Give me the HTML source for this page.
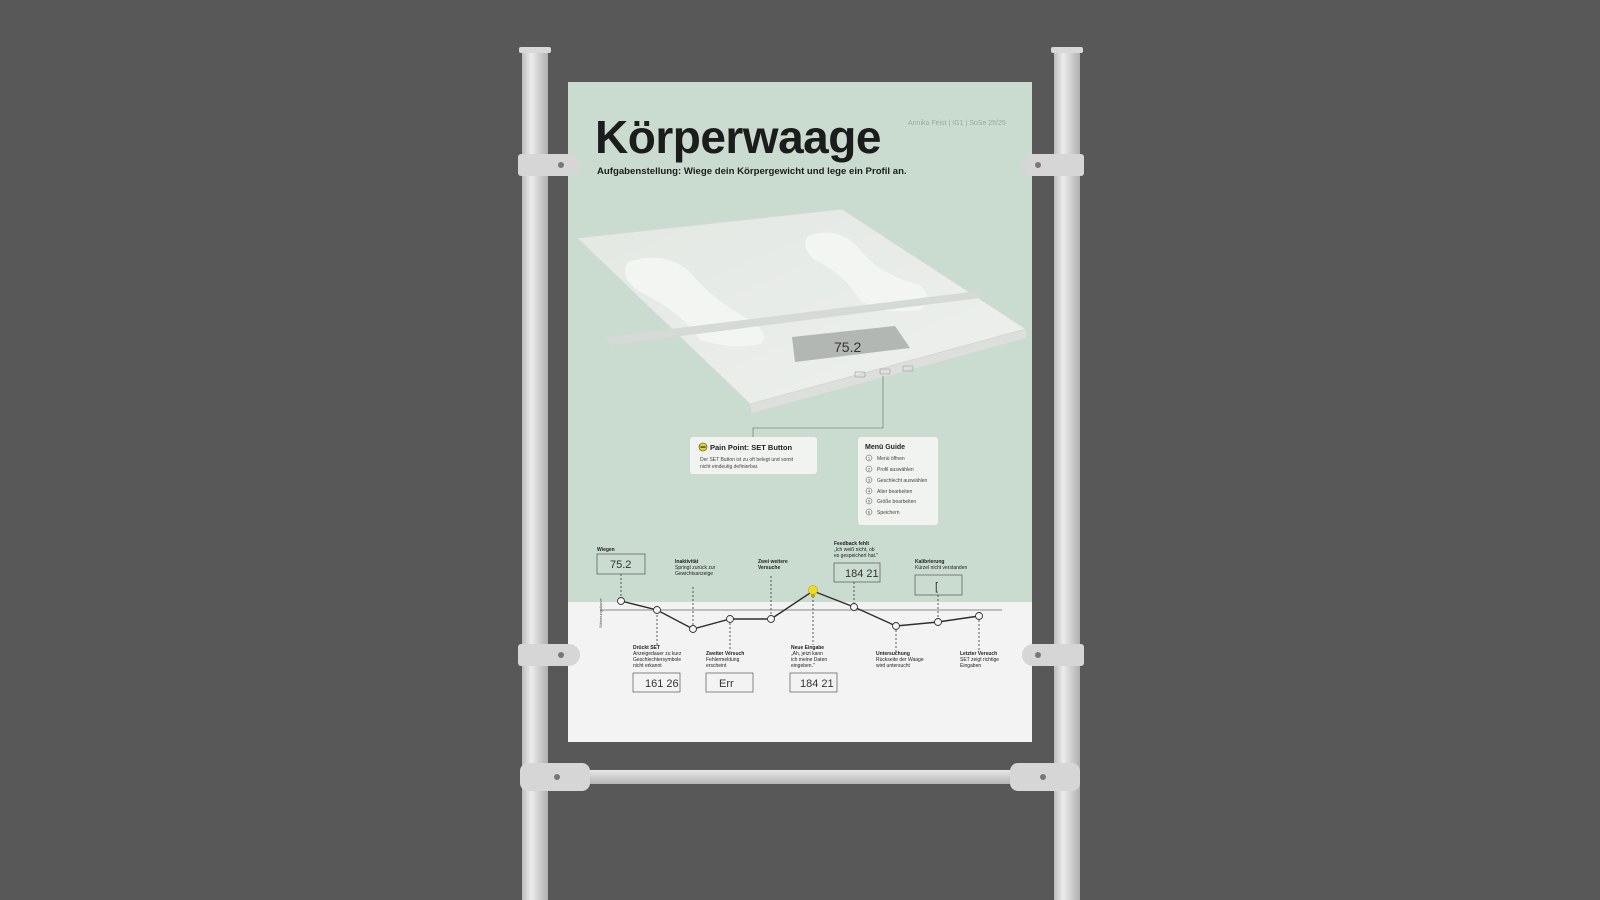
<!DOCTYPE html>
<html><head><meta charset="utf-8"><style>
html,body{margin:0;padding:0;background:#585858;}
svg{display:block}
text{font-family:"Liberation Sans",sans-serif;}
</style></head><body>
<svg width="1600" height="900" viewBox="0 0 1600 900" xmlns="http://www.w3.org/2000/svg">
<defs>
<linearGradient id="pole" x1="0" x2="1" y1="0" y2="0">
<stop offset="0" stop-color="#bdbdbd"/><stop offset="0.35" stop-color="#ececec"/><stop offset="1" stop-color="#b0b0b0"/></linearGradient>
<linearGradient id="bar" x1="0" x2="0" y1="0" y2="1">
<stop offset="0" stop-color="#e8e8e8"/><stop offset="1" stop-color="#b5b5b5"/></linearGradient>
<linearGradient id="top" x1="0" x2="1" y1="0" y2="1">
<stop offset="0" stop-color="#e3e8e3"/><stop offset="1" stop-color="#eef0ee"/></linearGradient>
</defs>
<rect width="1600" height="900" fill="#585858"/>
<rect x="522" y="50" width="26" height="850" fill="url(#pole)"/>
<rect x="519" y="47" width="32" height="6" rx="2" fill="#d8d8d8"/>
<rect x="1054" y="50" width="26" height="850" fill="url(#pole)"/>
<rect x="1051" y="47" width="32" height="6" rx="2" fill="#d8d8d8"/>
<rect x="568" y="82" width="464" height="660" fill="#c9dccf"/>
<rect x="568" y="602" width="464" height="140" fill="#f3f3f3"/>
<rect x="545" y="770" width="512" height="14" fill="url(#bar)"/>
<rect x="520" y="763" width="70" height="28" rx="8" fill="#d6d6d6"/>
<rect x="1010" y="763" width="70" height="28" rx="8" fill="#d6d6d6"/>
<circle cx="557" cy="777" r="3" fill="#777"/><circle cx="1043" cy="777" r="3" fill="#777"/>
<g fill="#d6d6d6">
<rect x="518" y="154" width="38" height="22" rx="3"/><rect x="540" y="154" width="40" height="22" rx="11"/>
<rect x="1044" y="154" width="40" height="22" rx="3"/><rect x="1022" y="154" width="40" height="22" rx="11"/>
<rect x="518" y="644" width="38" height="22" rx="3"/><rect x="540" y="644" width="40" height="22" rx="11"/>
<rect x="1044" y="644" width="40" height="22" rx="3"/><rect x="1022" y="644" width="40" height="22" rx="11"/>
</g>
<g fill="#777"><circle cx="561" cy="165" r="3"/><circle cx="1038" cy="165" r="3"/><circle cx="561" cy="655" r="3"/><circle cx="1038" cy="655" r="3"/></g>
<text x="595" y="153" font-size="46" font-weight="bold" fill="#1c1c1c" letter-spacing="-0.5">Körperwaage</text>
<text x="597" y="174" font-size="9.6" font-weight="bold" fill="#1c1c1c">Aufgabenstellung: Wiege dein Körpergewicht und lege ein Profil an.</text>
<text x="908" y="125" font-size="7" fill="#9aaa9f">Annika Feist | IG1 | SoSe 25/25</text>
<polygon points="577,238 842,209 1026,329 1026,338 752,413 750,404" fill="#dcdfdc"/>
<polygon points="577,238 842,209 1026,329 750,404" fill="url(#top)" stroke="#d5d9d5" stroke-width="1"/>
<g fill="#f3f5f3">
<path d="M628,262 Q665,250 690,272 Q712,300 750,320 Q772,335 760,344 Q730,350 700,340 Q682,312 640,292 Q618,276 628,262Z"/>
<path d="M808,236 Q840,225 860,250 Q880,275 920,285 Q935,300 920,310 Q880,315 860,300 Q845,275 815,260 Q800,248 808,236Z"/>
</g>
<polygon points="606,337 978,291 980,298 610,345" fill="#d6dad6"/>
<polygon points="792,337 895,326 910,348 795,362" fill="#b3b7b3"/>
<text x="834" y="352" font-size="14" fill="#333" font-family="Liberation Mono">75.2</text>
<rect x="855" y="372" width="10" height="5" rx="1" fill="none" stroke="#aaa" stroke-width="0.8"/>
<rect x="880" y="369" width="10" height="5" rx="1" fill="none" stroke="#aaa" stroke-width="0.8"/>
<rect x="903" y="366" width="10" height="5" rx="1" fill="none" stroke="#aaa" stroke-width="0.8"/>
<polyline points="883,376 883,428 753,428 753,437" fill="none" stroke="#7a857c" stroke-width="0.8"/>
<rect x="690" y="437" width="127" height="37" rx="3" fill="#f1f3f1"/>
<circle cx="703" cy="447" r="4" fill="#e4d81a" stroke="#333" stroke-width="0.6"/>
<rect x="700.5" y="446.4" width="5" height="1.3" fill="#333"/>
<text x="710" y="450" font-size="7.5" font-weight="bold" fill="#222">Pain Point: SET Button</text>
<text x="700" y="461" font-size="5" fill="#444">Der SET Button ist zu oft belegt und somit</text>
<text x="700" y="468" font-size="5" fill="#444">nicht eindeutig definierbar.</text>
<rect x="858" y="437" width="80" height="88" rx="3" fill="#f1f3f1"/>
<text x="865" y="449" font-size="7" font-weight="bold" fill="#222">Menü Guide</text>
<g font-size="5" fill="#444">
<g fill="none" stroke="#444" stroke-width="0.5">
<circle cx="869" cy="458" r="3"/><circle cx="869" cy="469" r="3"/><circle cx="869" cy="480" r="3"/><circle cx="869" cy="491" r="3"/><circle cx="869" cy="501" r="3"/><circle cx="869" cy="512" r="3"/></g>
<g font-size="4" text-anchor="middle"><text x="869" y="459.5">1</text><text x="869" y="470.5">2</text><text x="869" y="481.5">3</text><text x="869" y="492.5">4</text><text x="869" y="502.5">5</text><text x="869" y="513.5">6</text></g>
<text x="877" y="460">Menü öffnen</text><text x="877" y="471">Profil auswählen</text><text x="877" y="482">Geschlecht auswählen</text>
<text x="877" y="493">Alter bearbeiten</text><text x="877" y="503">Größe bearbeiten</text><text x="877" y="514">Speichern</text>
</g>
<line x1="600" y1="610" x2="1002" y2="610" stroke="#a9aea9" stroke-width="1.5"/>
<text x="0" y="0" font-size="4" fill="#555" transform="translate(602,628) rotate(-90)">Stimmungskurve</text>
<g stroke="#333" stroke-width="0.8" stroke-dasharray="2,2">
<line x1="621" y1="574" x2="621" y2="601"/><line x1="657" y1="611" x2="657" y2="645"/>
<line x1="693" y1="587" x2="693" y2="629"/><line x1="730" y1="619" x2="730" y2="652"/>
<line x1="771" y1="576" x2="771" y2="619"/><line x1="813" y1="592" x2="813" y2="645"/>
<line x1="854" y1="582" x2="854" y2="607"/><line x1="896" y1="626" x2="896" y2="652"/>
<line x1="938" y1="595" x2="938" y2="622"/><line x1="979" y1="616" x2="979" y2="652"/>
</g>
<polyline points="621,601 657,610 693,629 730,619 771,619 813,591 854,607 896,626 938,622 979,616" fill="none" stroke="#2e2e2e" stroke-width="1.4"/>
<g fill="#f5f5f5" stroke="#333" stroke-width="0.9">
<circle cx="621" cy="601" r="3.5"/><circle cx="657" cy="610" r="3.5"/><circle cx="693" cy="629" r="3.5"/>
<circle cx="730" cy="619" r="3.5"/><circle cx="771" cy="619" r="3.5"/><circle cx="854" cy="607" r="3.5"/>
<circle cx="896" cy="626" r="3.5"/><circle cx="938" cy="622" r="3.5"/><circle cx="979" cy="616" r="3.5"/>
</g>
<circle cx="813" cy="590" r="4.5" fill="#eedc1a" stroke="#bba800" stroke-width="0.6"/>
<rect x="811" y="594" width="4" height="3" fill="#bba800"/>
<g fill="#222" font-size="5">
<text x="597" y="551" font-weight="bold">Wiegen</text>
<text x="675" y="563" font-weight="bold">Inaktivität</text><text x="675" y="569">Springt zurück zur</text><text x="675" y="575">Gewichtsanzeige</text>
<text x="758" y="563" font-weight="bold">Zwei weitere</text><text x="758" y="569" font-weight="bold">Versuche</text>
<text x="834" y="545" font-weight="bold">Feedback fehlt</text><text x="834" y="551">„Ich weiß nicht, ob</text><text x="834" y="557">es gespeichert hat."</text>
<text x="915" y="563" font-weight="bold">Kalibrierung</text><text x="915" y="569">Kürzel nicht verstanden</text>
<text x="633" y="649" font-weight="bold">Drückt SET</text><text x="633" y="655">Anzeigedauer zu kurz</text><text x="633" y="661">Geschlechtersymbole</text><text x="633" y="667">nicht erkannt</text>
<text x="706" y="655" font-weight="bold">Zweiter Versuch</text><text x="706" y="661">Fehlermeldung</text><text x="706" y="667">erscheint</text>
<text x="791" y="649" font-weight="bold">Neue Eingabe</text><text x="791" y="655">„Ah, jetzt kann</text><text x="791" y="661">ich meine Daten</text><text x="791" y="667">eingeben."</text>
<text x="876" y="655" font-weight="bold">Untersuchung</text><text x="876" y="661">Rückseite der Waage</text><text x="876" y="667">wird untersucht</text>
<text x="960" y="655" font-weight="bold">Letzter Versuch</text><text x="960" y="661">SET zeigt richtige</text><text x="960" y="667">Eingaben</text>
</g>
<g fill="none" stroke="#555" stroke-width="0.7">
<rect x="597" y="554" width="48" height="20"/><rect x="834" y="563" width="46" height="19"/>
<rect x="915" y="575" width="47" height="20"/><rect x="633" y="673" width="47" height="19"/>
<rect x="706" y="673" width="47" height="19"/><rect x="790" y="673" width="47" height="19"/>
</g>
<g fill="#333" font-family="Liberation Mono" font-size="11">
<text x="610" y="568">75.2</text><text x="845" y="577">184 21</text><text x="935" y="590">[</text>
<text x="645" y="687">161 26</text><text x="719" y="687">Err</text><text x="800" y="687">184 21</text>
</g>
</svg>
</body></html>
